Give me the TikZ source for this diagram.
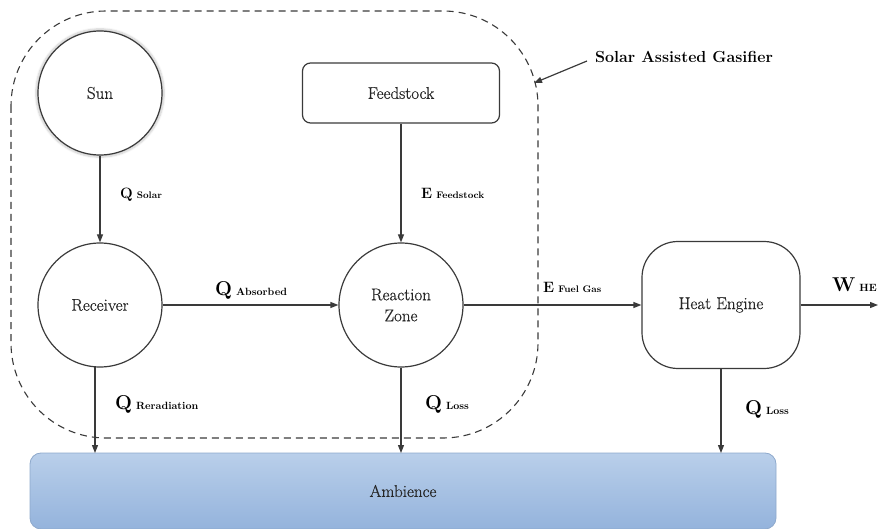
\documentclass[tikz,border=0pt]{standalone}
\usepackage{fontspec}
\newfontfamily\figfont[FakeBold=0.6]{Latin Modern Roman}
\newfontfamily\figbold{Latin Modern Roman}
\usetikzlibrary{arrows.meta,shadows.blur}
\definecolor{ambtop}{HTML}{B9CFEA}
\definecolor{ambbot}{HTML}{94B3DC}
\definecolor{ambedge}{HTML}{8EA9CC}
\definecolor{linegray}{HTML}{3A3A3A}
\definecolor{textgray}{HTML}{262626}
\tikzset{
  every node/.style={font=\figfont, text=textgray},
  boxtext/.style={font=\figfont\fontsize{17}{21}\selectfont},
  proc/.style={draw=linegray, line width=1.2pt, circle, minimum size=124pt, inner sep=0pt,
    align=center, boxtext},
  flow/.style={draw=linegray, line width=1.2pt, -{Triangle[length=8pt,width=6pt]}},
  lbl/.style={anchor=base west, inner sep=0pt, text=black},
}
\newcommand{\qbig}[2]{{\figbold\fontsize{20}{20}\selectfont\bfseries #1}\hspace{4pt}{\figbold\fontsize{10.5}{11}\selectfont\bfseries #2}}
\newcommand{\qsmall}[2]{{\figbold\fontsize{15}{15}\selectfont\bfseries #1}\hspace{4pt}{\figbold\fontsize{9.5}{10}\selectfont\bfseries #2}}
\begin{document}
\begin{tikzpicture}[x=1pt,y=-1pt]
\useasboundingbox (0,0) rectangle (878,529);

% system boundary of the gasifier
\draw[dash pattern=on 7pt off 5pt, line width=1.1pt, draw=linegray, rounded corners=95pt]
  (11,11) rectangle (538,438);

% ambience sink
\node (amb) [draw=ambedge, line width=0.8pt, rounded corners=11pt, top color=ambtop, bottom color=ambbot,
  minimum width=746pt, minimum height=76pt, inner sep=0pt, boxtext]
  at (403,491) {Ambience};

% components
\node (sun) [proc, fill=white, blur shadow={shadow xshift=0pt, shadow yshift=0pt, shadow scale=1.035,
  shadow blur steps=8, shadow opacity=20}] at (100,93) {Sun};
\node (rec) [proc] at (100,305) {Receiver};
\node (rz)  [proc] at (401,305) {Reaction\\Zone};
\node (feed) [draw=linegray, line width=1.2pt, rounded corners=8pt, minimum width=197pt,
  minimum height=60pt, inner sep=0pt, boxtext] at (401,93) {Feedstock};
\node (he) [draw=linegray, line width=1.2pt, rounded corners=36pt, minimum width=158pt,
  minimum height=127pt, inner sep=0pt, boxtext] at (721,305) {Heat Engine};

\coordinate (wout) at (878,305);
\coordinate (recdown) at (95,367);
\coordinate (recamb) at (95,453);
\coordinate (rzamb) at (401,453);
\coordinate (heamb) at (721,453);

% energy flows
\draw[flow] (sun) -- (rec);
\draw[flow] (feed) -- (rz);
\draw[flow] (rec) -- (rz);
\draw[flow] (rz) -- (he);
\draw[flow] (he) -- (wout);
\draw[flow] (recdown) -- (recamb);
\draw[flow] (rz.south) -- (rzamb);
\draw[flow] (he.south) -- (heamb);

% flow labels
\node[lbl] (lsolar) at (120,199) {\qsmall{Q}{Solar}};
\node[lbl] (lfeed) at (421,199) {\qsmall{E}{Feedstock}};
\node[lbl] (labs) at (215,295) {\qbig{Q}{Absorbed}};
\node[lbl] (lfuel) at (543,293) {\qsmall{E}{Fuel Gas}};
\node[lbl] (lwhe) at (832,291) {\qbig{W}{HE}};
\node[lbl] (lrerad) at (115,409) {\qbig{Q}{Reradiation}};
\node[lbl] (lloss1) at (425,409) {\qbig{Q}{Loss}};
\node[lbl] (lloss2) at (745,414) {\qbig{Q}{Loss}};

% boundary caption
\node[anchor=west, inner sep=0pt, text=black, font=\figbold\fontsize{16}{19}\selectfont\bfseries] (cap) at (595,57) {Solar Assisted Gasifier};
\coordinate (captip) at (534,83);
\draw[flow] (cap.west) ++(-8,4) -- (captip);
\end{tikzpicture}
\end{document}
